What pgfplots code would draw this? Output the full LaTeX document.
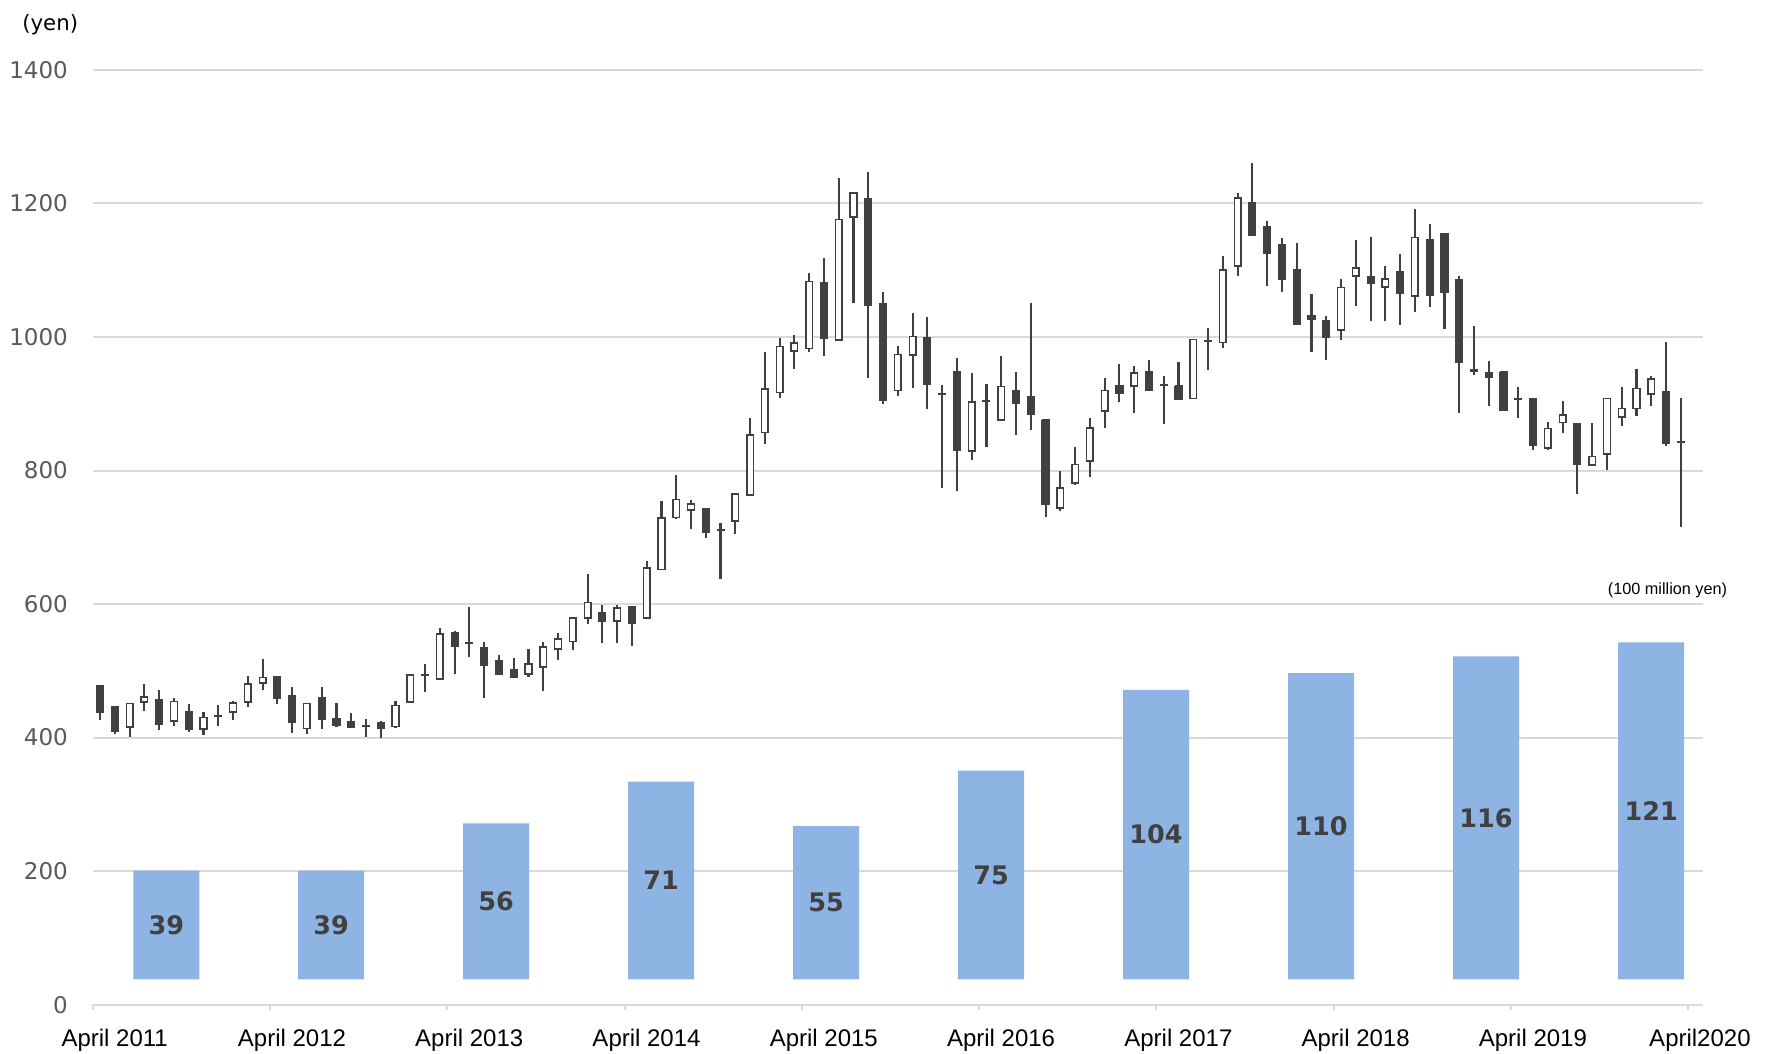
\documentclass[border=0pt]{standalone}
\usepackage{fontspec}
\setmainfont{Liberation Sans}
\newfontfamily\dejavu{DejaVu Sans}
\usepackage{pgfplots}
\usepackage{pgfplotstable}
\pgfplotsset{compat=1.18}

\definecolor{candle}{RGB}{64,64,64}
\definecolor{gridgray}{RGB}{217,217,217}
\definecolor{barblue}{RGB}{142,180,227}
\definecolor{tickgray}{RGB}{89,89,89}

% monthly share price, April 2011 - March 2020 (yen)
\pgfplotstableread{
x open high low close
0.5 478 478 426 438
1.5 446 446 406 410
2.5 416 451 401 451
3.5 454 480 440 461
4.5 456 472 412 420
5.5 425 460 417 454
6.5 438 450 408 413
7.5 413 438 404 430
8.5 432 449 417 432
9.5 439 455 427 452
10.5 453 493 446 480
11.5 482 517 471 490
12.5 491 491 451 459
13.5 462 476 407 423
14.5 414 451 406 451
15.5 459 476 413 428
16.5 428 452 416 419
17.5 423 437 414 416
18.5 417 428 401 417
19.5 422 425 399 414
20.5 417 455 415 448
21.5 453 495 452 494
22.5 494 510 469 494
23.5 488 564 488 555
24.5 556 560 495 537
25.5 541 595 521 541
26.5 534 543 459 509
27.5 514 523 495 495
28.5 501 519 490 490
29.5 495 533 491 510
30.5 506 543 470 536
31.5 533 556 516 548
32.5 544 579 531 579
33.5 579 645 570 602
34.5 586 598 541 575
35.5 575 598 542 594
36.5 595 597 537 572
37.5 579 665 579 654
38.5 652 754 652 729
39.5 730 794 728 757
40.5 741 756 712 750
41.5 743 743 699 708
42.5 711 721 638 711
43.5 725 767 705 765
44.5 763 878 763 853
45.5 857 978 840 922
46.5 917 998 908 986
47.5 979 1003 952 991
48.5 983 1096 978 1083
49.5 1081 1118 971 998
50.5 996 1238 995 1176
51.5 1180 1216 1051 1216
52.5 1207 1247 939 1047
53.5 1049 1067 899 906
54.5 920 987 911 974
55.5 973 1036 923 1001
56.5 999 1030 892 929
57.5 914 928 774 914
58.5 948 968 770 831
59.5 830 946 816 903
60.5 904 929 836 904
61.5 876 971 875 926
62.5 919 947 853 901
63.5 910 1051 860 884
64.5 875 875 731 750
65.5 744 799 740 774
66.5 781 836 779 809
67.5 815 878 791 864
68.5 889 938 863 920
69.5 927 959 902 916
70.5 927 957 886 946
71.5 947 965 920 920
72.5 928 942 870 928
73.5 926 962 906 907
74.5 908 997 907 996
75.5 994 1013 951 994
76.5 992 1121 984 1100
77.5 1106 1215 1092 1208
78.5 1200 1260 1152 1153
79.5 1165 1174 1076 1125
80.5 1138 1148 1067 1086
81.5 1100 1141 1019 1019
82.5 1032 1064 978 1027
83.5 1024 1032 966 999
84.5 1011 1087 995 1074
85.5 1091 1145 1046 1103
86.5 1090 1150 1024 1081
87.5 1075 1106 1024 1087
88.5 1098 1125 1018 1065
89.5 1062 1192 1037 1149
90.5 1146 1169 1045 1062
91.5 1154 1154 1012 1067
92.5 1086 1092 886 962
93.5 951 1017 943 948
94.5 946 964 897 940
95.5 947 947 891 891
96.5 907 925 879 907
97.5 907 907 831 838
98.5 834 872 831 863
99.5 872 904 856 883
100.5 870 870 765 810
101.5 809 871 809 821
102.5 825 908 801 908
103.5 880 925 867 893
104.5 893 952 881 923
105.5 915 941 897 937
106.5 917 993 837 841
107.5 843 908 716 843
}\candles

% yearly figure (100 million yen)
\pgfplotstableread{
x v
4.98 39
16.14 39
27.31 56
38.48 71
49.65 55
60.82 75
71.98 104
83.15 110
94.32 116
105.49 121
}\sales

\pgfplotsset{
  frame/.style={scale only axis, width=644.1pt, height=373.9pt,
    xmin=0, xmax=109, ymin=0, ymax=1400, at={(0,0)}, anchor=south west},
}

\begin{document}
\begin{tikzpicture}
% axes, grid and labels
\begin{axis}[frame,
  axis x line*=bottom, axis y line*=left,
  y axis line style={draw=none},
  x axis line style={draw=gridgray, line width=0.8pt},
  ymajorgrids, grid style={gridgray, line width=0.8pt},
  ytick={0,200,...,1400},
  xtick={0,12,...,108},
  xticklabels={April 2011,April 2012,April 2013,April 2014,April 2015,April 2016,April 2017,April 2018,April 2019,\hspace*{-8.2pt}April2020},
  tick align=outside, major tick length=2.2pt,
  xtick style={draw=gridgray, line width=0.8pt},
  ytick style={draw=none},
  /pgf/number format/1000 sep={},
  /pgf/number format/assume math mode=true,
  yticklabel style={font=\dejavu\fontsize{9.2}{10}\selectfont, text=tickgray, xshift=-4.2pt},
  xticklabel style={font=\fontsize{9.6}{10}\selectfont, xshift=8.8pt, yshift=-4pt},
  clip=false,
]
\node[font=\dejavu\fontsize{8.5}{10}\selectfont] at ([xshift=-17pt,yshift=18pt]rel axis cs:0,1) {(yen)};
\node[font=\fontsize{6.5}{8}\selectfont] at (axis cs:106.6,621) {(100 million yen)};
\end{axis}

% bars
\begin{axis}[frame, hide axis, ymin=-9.113, ymax=326.62]
\addplot[ybar, bar width=4.467, fill=barblue, draw=none] table[x=x, y=v]{\sales};
\addplot[draw=none, mark=none, nodes near coords, point meta=explicit symbolic,
  nodes near coords style={anchor=center, font=\dejavu\bfseries\fontsize{10.2}{12}\selectfont, text=candle}]
  table[x=x, y expr=\thisrow{v}/2, meta=v]{\sales};
\end{axis}

% wicks, and the open level (shows as a cross where open = close)
\begin{axis}[frame, hide axis]
\addplot[draw=none, mark=none,
  error bars/.cd, y dir=plus, y explicit, error mark=none,
  error bar style={draw=candle, line width=0.85pt}]
  table[x=x, y=low, y error expr=\thisrow{high}-\thisrow{low}]{\candles};
\addplot[only marks, mark=-, mark size=1.6pt, mark options={draw=candle, line width=0.8pt}]
  table[x=x, y=open]{\candles};
\end{axis}

% bodies
\begin{axis}[frame, hide axis, ybar stacked, bar width=0.45]
\addplot[draw=none, fill=none] table[x=x, y expr={min(\thisrow{open},\thisrow{close})}]{\candles};
\addplot[draw=candle, fill=candle, line width=0.6pt] table[x=x, y expr={max(\thisrow{open}-\thisrow{close},0)}]{\candles};
\addplot[draw=candle, fill=white, line width=0.6pt] table[x=x, y expr={max(\thisrow{close}-\thisrow{open},0)}]{\candles};
\end{axis}

\pgfresetboundingbox
\useasboundingbox (-37.08pt,-19.72pt) rectangle (671.72pt,401.88pt);
\end{tikzpicture}
\end{document}
